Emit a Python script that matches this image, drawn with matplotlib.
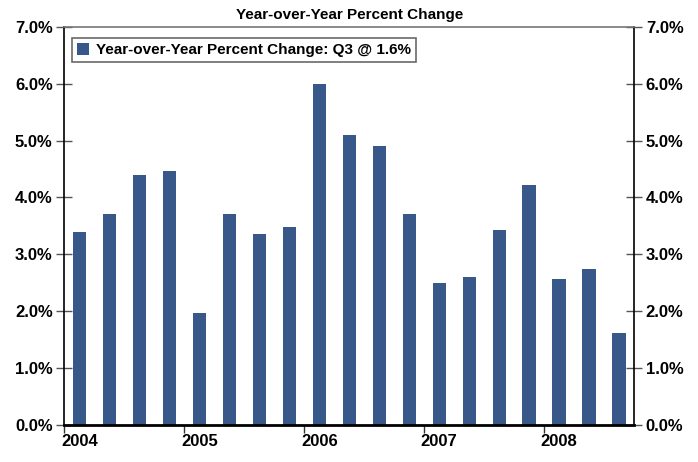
import matplotlib
matplotlib.use("Agg")
import matplotlib.pyplot as plt
import numpy as np
from matplotlib.ticker import FuncFormatter, FixedLocator

# quarterly YoY % change, 2004Q1 .. 2008Q3
yoy_change = [3.39, 3.71, 4.40, 4.47, 1.97, 3.71, 3.36, 3.48, 6.00, 5.10,
              4.91, 3.71, 2.50, 2.60, 3.43, 4.22, 2.56, 2.74, 1.62]
years = ["2004", "2005", "2006", "2007", "2008"]
legend_label = "Year-over-Year Percent Change: Q3 @ 1.6%"
title = "Year-over-Year Percent Change"

bar_color = "#375889"
font = "Liberation Sans"

plt.rcParams["font.family"] = font
plt.rcParams["font.weight"] = "bold"

fig = plt.figure(figsize=(6.98, 4.62), dpi=100)
ax = fig.add_axes([0.0924, 0.0807, 0.9083 - 0.0924, 0.9416 - 0.0807])

x = np.arange(len(yoy_change))
ax.bar(x, yoy_change, width=0.44, color=bar_color, label=legend_label, zorder=2)

ax.set_xlim(-0.5, 18.5)
ax.set_ylim(0, 7)

# y axis on both sides
ax.set_yticks(np.arange(0, 8, 1))
ax.yaxis.set_major_formatter(FuncFormatter(lambda v, p: f"{v:.1f}%"))
ax.tick_params(axis="y", which="major", direction="inout", length=11, width=1,
               color="#555555", labelsize=12, left=True, right=True,
               labelleft=True, labelright=True, pad=3)

# year boundaries as major ticks, year labels under first quarter
ax.xaxis.set_major_locator(FixedLocator(np.arange(-0.5, 19, 4)))
ax.xaxis.set_major_formatter(FuncFormatter(lambda v, p: ""))
ax.xaxis.set_minor_locator(FixedLocator(np.arange(0, 19, 4)[:len(years)]))
ax.set_xticklabels(years, minor=True)
ax.tick_params(axis="x", which="major", direction="out", length=6, width=1, color="#333333")
ax.tick_params(axis="x", which="minor", length=0, labelsize=12, pad=7)

for side in ["left", "right"]:
    ax.spines[side].set_color("black")
    ax.spines[side].set_linewidth(1.2)
ax.spines["bottom"].set_color("black")
ax.spines["bottom"].set_linewidth(2)
ax.spines["top"].set_color("#777777")
ax.spines["top"].set_linewidth(1.2)

for lbl in ax.get_yticklabels() + ax.get_xticklabels(minor=True):
    lbl.set_fontweight("bold")

ax.set_title(title, fontsize=11, fontweight="bold", pad=6)

leg = ax.legend(loc="upper left", bbox_to_anchor=(0.005, 0.985), fontsize=11,
                frameon=True, fancybox=False, handlelength=0.8, handleheight=0.8,
                handletextpad=0.4, borderpad=0.35, borderaxespad=0.3)
leg.get_frame().set_edgecolor("#444444")
leg.get_frame().set_linewidth(1.2)
for t in leg.get_texts():
    t.set_fontweight("bold")

fig.savefig("out.png", dpi=100)
